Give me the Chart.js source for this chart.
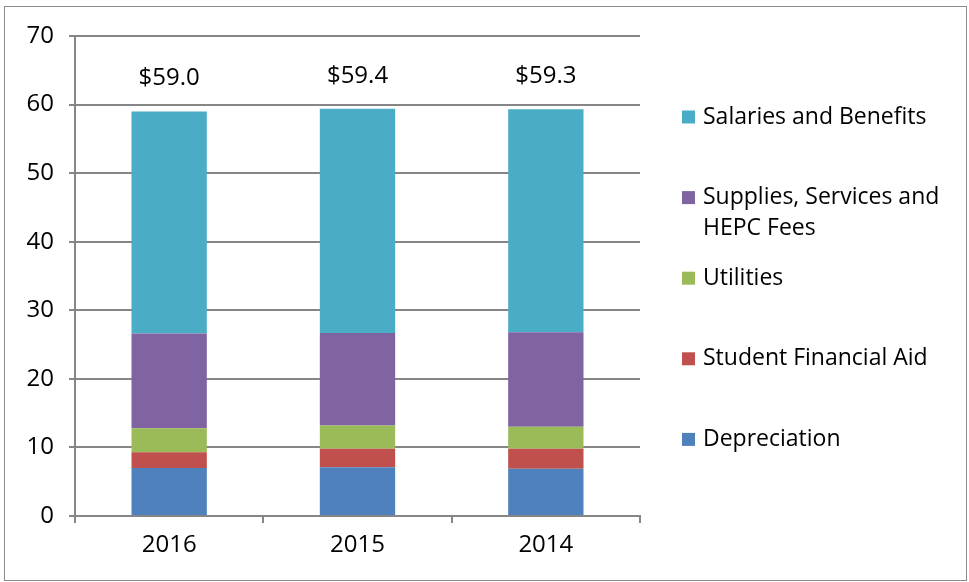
<!DOCTYPE html>
<html>
<head>
<meta charset="utf-8">
<script src="https://cdn.jsdelivr.net/npm/chart.js@4.4.1/dist/chart.umd.min.js"></script>
<style>
  html, body { margin: 0; padding: 0; background: #fff; }
  #wrap { width: 969px; height: 582px; position: relative; }
</style>
</head>
<body>
<div id="wrap"><canvas id="myChart" width="969" height="582"></canvas></div>
<script>
// data ($ millions)
const years = ['2016', '2015', '2014'];
const depreciation = [7.0, 7.1, 6.9];
const studentAid = [2.3, 2.7, 2.9];
const utilities = [3.5, 3.4, 3.2];
const supplies = [13.8, 13.5, 13.8];
const salaries = [32.4, 32.7, 32.5];
const totals = [59.0, 59.4, 59.3];
const yTicks = [0, 10, 20, 30, 40, 50, 60, 70];

const seriesNames = ['Depreciation', 'Student Financial Aid', 'Utilities',
  'Supplies, Services and HEPC Fees', 'Salaries and Benefits'];
const seriesColors = ['#4f81bd', '#c0504d', '#9bbb59', '#8064a2', '#4bacc6'];
const seriesData = [depreciation, studentAid, utilities, supplies, salaries];

const FONT = '"Open Sans", "Noto Sans", sans-serif';
const gray = '#868686';

// frame round the whole chart
const frame = {
  id: 'frame',
  beforeDraw(chart) {
    const ctx = chart.ctx;
    ctx.save();
    ctx.fillStyle = '#fff';
    ctx.fillRect(0, 0, chart.width, chart.height);
    ctx.strokeStyle = '#8c8c8c';
    ctx.lineWidth = 1;
    ctx.strokeRect(4.5, 6.5, 962, 574);
    ctx.restore();
  }
};

// "$59.0" labels above each stack
const totalLabels = {
  id: 'totalLabels',
  afterDatasetsDraw(chart) {
    const ctx = chart.ctx;
    const last = chart.getDatasetMeta(chart.data.datasets.length - 1);
    ctx.save();
    ctx.font = '24px ' + FONT;
    ctx.fillStyle = '#000';
    ctx.textAlign = 'center';
    ctx.textBaseline = 'alphabetic';
    last.data.forEach((bar, i) => {
      ctx.fillText('$' + totals[i].toFixed(1), bar.x, bar.y - 26);
    });
    ctx.restore();
  }
};

// legend on the right, Excel style (reversed order, wrapped text)
const sideLegend = {
  id: 'sideLegend',
  afterDraw(chart) {
    const ctx = chart.ctx;
    const ds = chart.data.datasets.slice().reverse();
    const startY = 117, step = 80.6, boxX = 682, textX = 703, maxW = 245;
    ctx.save();
    ctx.font = '23px ' + FONT;
    ctx.textBaseline = 'middle';
    ctx.textAlign = 'left';
    ds.forEach((d, i) => {
      const y = startY + i * step;
      ctx.fillStyle = d.backgroundColor;
      ctx.fillRect(boxX, y - 6.5, 13, 13);
      // wrap words
      const words = d.label.split(' ');
      let lines = [], line = '';
      words.forEach(w => {
        const test = line ? line + ' ' + w : w;
        if (ctx.measureText(test).width > maxW && line) {
          lines.push(line);
          line = w;
        } else {
          line = test;
        }
      });
      lines.push(line);
      ctx.fillStyle = '#000';
      lines.forEach((l, k) => ctx.fillText(l, textX, y + k * 31));
    });
    ctx.restore();
  }
};

const data = {
  labels: years,
  datasets: seriesNames.map((name, i) => ({
    label: name,
    data: seriesData[i],
    backgroundColor: seriesColors[i],
    borderWidth: 0,
    barPercentage: 0.4,
    categoryPercentage: 1.0
  }))
};

const config = {
  type: 'bar',
  data,
  options: {
    responsive: false,
    animation: false,
    layout: { padding: { left: 0, top: 36, right: 329, bottom: 0 } },
    plugins: {
      legend: { display: false },
      tooltip: { enabled: false }
    },
    scales: {
      x: {
        stacked: true,
        afterFit(scale) { scale.height = 66; },
        grid: {
          drawOnChartArea: false,
          drawTicks: true,
          tickLength: 7,
          offset: true,
          color: gray,
          lineWidth: 2
        },
        border: { color: gray, width: 2 },
        ticks: {
          color: '#000',
          font: { family: FONT, size: 24 },
          padding: 8
        }
      },
      y: {
        stacked: true,
        min: yTicks[0],
        max: yTicks[yTicks.length - 1],
        afterFit(scale) { scale.width = 75; },
        afterBuildTicks(scale) { scale.ticks = yTicks.map(v => ({ value: v })); },
        grid: {
          color: gray,
          lineWidth: 2,
          tickLength: 6
        },
        border: { color: gray, width: 2 },
        ticks: {
          color: '#000',
          font: { family: FONT, size: 24 },
          padding: 15
        }
      }
    }
  },
  plugins: [frame, totalLabels, sideLegend]
};

const myChart = new Chart(document.getElementById('myChart'), config);
</script>
</body>
</html>
